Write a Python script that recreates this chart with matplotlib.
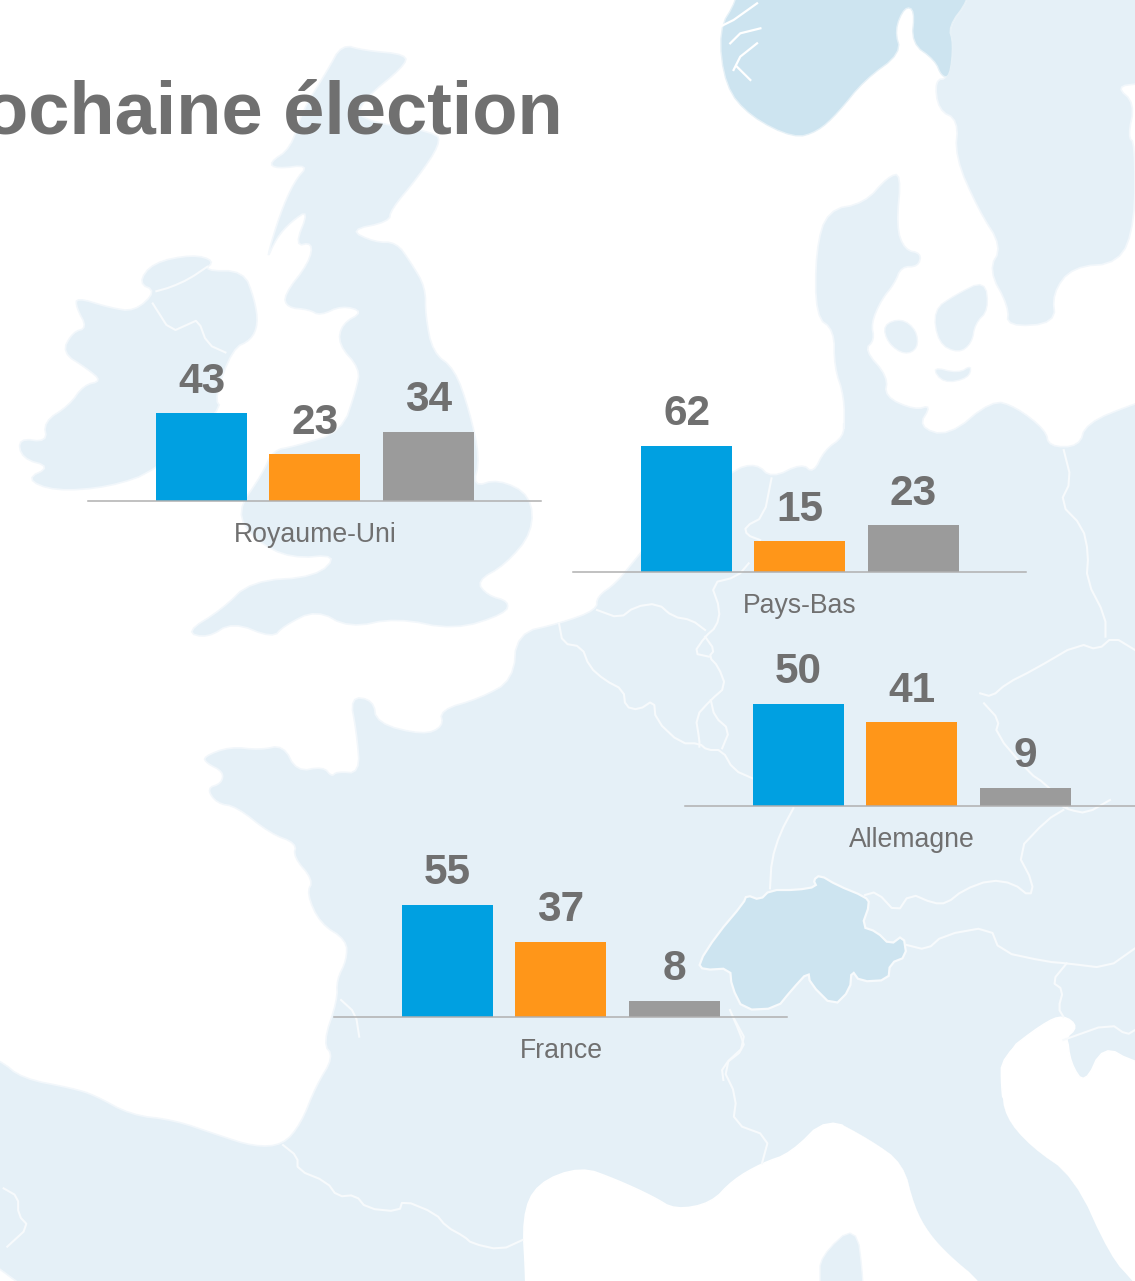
import matplotlib
matplotlib.use('Agg')
import matplotlib.pyplot as plt
from matplotlib.patches import Polygon

plt.rcParams['font.family'] = ['Liberation Sans', 'DejaVu Sans']

W, H = 1135, 1281

# chart data
countries = ['Royaume-Uni', 'Pays-Bas', 'Allemagne', 'France']
blue_values = [43, 62, 50, 55]
orange_values = [23, 15, 41, 37]
grey_values = [34, 23, 9, 8]
bar_colors = ['#00A0E1', '#FF9619', '#9B9B9B']

# where each small chart sits: left end and baseline of its axis, in pixels
axis_left = [88.4, 573.4, 685.4, 334.4]
axis_base = [501, 572, 806, 1017]
axis_width = 453
px_per_unit = 2.04
y_top = 70

LAND = '#E5F0F7'
DARK = '#CDE4F0'
TEXT = '#707070'


def pts(coords, x0, y0, sx=3.0, sy=3.0):
    return [(x0 + a / sx, y0 + b / sy) for a, b in coords]


def soften(line, closed=True, rounds=2):
    # corner cutting so the hand-read coastlines are not so angular
    for _ in range(rounds):
        out = []
        n = len(line)
        stop = n if closed else n - 1
        if not closed:
            out.append(line[0])
        for k in range(stop):
            a, b = line[k], line[(k + 1) % n]
            out.append((0.75 * a[0] + 0.25 * b[0], 0.75 * a[1] + 0.25 * b[1]))
            out.append((0.25 * a[0] + 0.75 * b[0], 0.25 * a[1] + 0.75 * b[1]))
        if not closed:
            out.append(line[-1])
        line = out
    return line


# background map outlines
brittany_channel = pts([(70, 470), (150, 440), (240, 450), (310, 435), (350, 515), (430, 500), (455, 530),
                        (470, 515), (540, 520), (530, 400), (510, 290), (580, 300), (590, 370), (730, 405),
                        (790, 380), (780, 330), (900, 295), (1000, 240), (1010, 100), (1140, 70), (1250, 30)],
                       180, 600)
low_countries = pts([(150, 530), (200, 490), (250, 420), (300, 350), (506, 150), (570, 130), (610, 175), (690, 130),
                     (720, 160), (750, 90), (800, 50), (800, 0)], 540, 420, 2.635)
jutland_baltic = pts([(430, 1300), (430, 1190), (400, 1100), (400, 990), (345, 950), (345, 750), (380, 630),
                      (490, 610), (560, 530), (600, 520), (585, 680), (610, 750), (660, 760), (650, 800), (600, 800),
                      (580, 850), (540, 900), (510, 970), (520, 1020), (490, 1050), (560, 1130), (550, 1190),
                      (640, 1230), (690, 1215), (650, 1280), (740, 1310), (870, 1200), (940, 1220), (1030, 1290),
                      (1040, 1340), (1130, 1340), (1150, 1270), (1296, 1210)], 700, 0, 2.98)
spain_biscay = pts([(-60, 130), (0, 180), (30, 235), (100, 265), (130, 285), (180, 345), (240, 360), (300, 405),
                    (350, 440), (390, 435), (415, 370), (435, 260), (460, 170), (445, 130), (465, 0)],
                   0, 1000, 1.378)
atlantic_france = pts([(470, 1140), (500, 1080), (500, 1020), (420, 970), (380, 880), (400, 840), (340, 770),
                       (350, 730), (270, 700), (170, 620), (110, 610), (80, 565), (125, 550), (130, 515), (80, 490)],
                      180, 600)
mainland = (brittany_channel + low_countries + jutland_baltic
            + [(W + 60, 385), (W + 60, H + 60), (-60, H + 60)] + spain_biscay + atlantic_france)

great_britain = pts([(940, 35), (1000, 50), (1120, 60), (1110, 90), (1000, 170), (980, 220), (1200, 250), (1210, 280),
                     (1150, 360), (1075, 440), (1070, 470), (960, 490), (1030, 520), (1090, 520), (1130, 570),
                     (1170, 630), (1170, 700), (1190, 790), (1250, 830), (1290, 930), (1320, 1050), (1300, 1120),
                     (1370, 1100), (1460, 1140), (1465, 1230), (1390, 1310), (1310, 1350), (1340, 1385), (1400, 1400),
                     (1390, 1430), (1250, 1470), (1090, 1440), (960, 1465), (870, 1420), (780, 1460), (750, 1490),
                     (640, 1450), (570, 1490), (510, 1475), (610, 1420), (690, 1350), (870, 1340), (930, 1285),
                     (800, 1295), (700, 1250), (650, 1180), (720, 1090), (750, 1030), (810, 1020), (940, 985),
                     (980, 880), (990, 830), (930, 770), (940, 720), (1000, 690), (940, 675), (880, 700), (850, 685),
                     (790, 680), (780, 650), (850, 570), (860, 520), (810, 530), (850, 440), (800, 470), (760, 510),
                     (730, 570), (770, 450), (810, 370), (850, 330), (760, 340), (740, 325), (800, 290), (830, 200),
                     (900, 100)], 0, 30, 2.75, 2.45)
ireland = pts([(210, 655), (300, 680), (370, 690), (430, 640), (380, 620), (420, 570), (530, 550), (590, 565),
               (560, 590), (670, 590), (700, 660), (710, 720), (690, 760), (640, 780), (590, 900), (610, 930),
               (430, 1080), (300, 1120), (150, 1130), (70, 1100), (140, 1070), (60, 1050), (50, 1000), (130, 1010),
               (120, 960), (190, 920), (230, 870), (280, 860), (240, 830), (170, 790), (200, 740), (240, 730),
               (210, 680)], 0, 30, 2.75, 2.45)
sweden = pts([(800, -60), (800, 0), (740, 80), (755, 140), (740, 235), (700, 240), (710, 330), (770, 360), (760, 470),
              (830, 630), (900, 740), (860, 810), (920, 920), (915, 980), (1060, 970), (1050, 880), (1110, 800),
              (1250, 790), (1296, 670), (1296, 430), (1275, 410), (1296, 310), (1240, 260), (1310, 250), (1400, 250),
              (1400, -60)], 700, 0, 2.98)
norway = pts([(110, -60), (110, 0), (55, 90), (75, 260), (150, 350), (280, 415), (350, 395), (410, 340), (490, 240),
              (600, 160), (580, 90), (610, 20), (640, 30), (630, 130), (700, 180), (720, 230), (745, 230), (755, 130),
              (740, 80), (800, 0), (800, -60)], 700, 0, 2.98)
fjords = [pts([(170, 10), (100, 60), (60, 80)], 700, 0, 2.98),
          pts([(180, 85), (120, 100), (90, 130)], 700, 0, 2.98),
          pts([(170, 130), (120, 170), (100, 210)], 700, 0, 2.98),
          pts([(110, 200), (150, 240)], 700, 0, 2.98)]
funen = pts([(545, 975), (600, 955), (645, 990), (650, 1045), (610, 1065), (560, 1030)], 700, 0, 2.98)
zealand = pts([(695, 930), (760, 885), (850, 840), (860, 930), (820, 970), (810, 1030), (770, 1060), (710, 1030)],
              700, 0, 2.98)
lolland = pts([(690, 1100), (770, 1120), (810, 1095), (800, 1135), (725, 1150)], 700, 0, 2.98)
switzerland = pts([(270, 270), (350, 270), (410, 260), (400, 240), (420, 225), (470, 255), (555, 290), (570, 310),
                   (545, 380), (590, 395), (630, 435), (670, 405), (680, 470), (630, 490), (625, 540), (540, 545),
                   (515, 510), (510, 570), (460, 620), (390, 550), (385, 515), (335, 570), (290, 625), (190, 630),
                   (155, 560), (150, 505), (70, 510), (55, 490), (110, 405), (190, 310), (200, 285), (240, 300)],
                  680, 800)

mediterranean = pts([(725, 1000), (725, 840), (720, 650), (740, 550), (800, 500), (850, 540), (900, 590), (930, 630),
                     (980, 610), (1010, 540), (1050, 490), (1090, 460), (1140, 350), (1200, 420), (1245, 490),
                     (1260, 620), (1280, 700), (1310, 770), (1350, 842), (1400, 1000)], 0, 1000, 1.378)
corsica = pts([(1130, 1000), (1130, 842), (1130, 770), (1180, 670), (1190, 842), (1190, 1000)], 0, 1000, 1.378)
adriatic = pts([(1380, 170), (1445, 60), (1470, 100), (1475, 190), (1495, 255), (1520, 135), (1564, 190), (1700, 260),
                (1700, 1000), (1564, 850), (1530, 770), (1480, 530), (1420, 440), (1385, 350), (1380, 260)],
               0, 1000, 1.378)
venice = pts([(960, 770), (1090, 670), (1150, 645), (1195, 680), (1150, 720), (1170, 840), (1060, 880)], 680, 800)
# Italy goes on top of both seas so the peninsula stays whole down to the page edge
italy = pts([(1140, 350), (1200, 420), (1245, 490), (1260, 620), (1280, 700), (1310, 770), (1350, 842), (1400, 1000),
             (1620, 1000), (1564, 850), (1530, 770), (1480, 530), (1420, 440), (1385, 350), (1380, 260), (1200, 250)],
            0, 1000, 1.378)

borders = [
    pts([(50, 610), (60, 670), (110, 680), (130, 740), (170, 780), (220, 810), (225, 860), (260, 870), (300, 840),
         (305, 900), (370, 970), (420, 970), (440, 990), (480, 990), (510, 1050), (560, 1075)], 540, 420, 2.635),
    pts([(150, 570), (210, 595), (250, 560), (310, 550), (350, 590), (400, 600), (435, 630)], 540, 420, 2.635),
    pts([(610, 175), (590, 290), (540, 320), (545, 345), (580, 360)], 540, 420, 2.635),
    pts([(550, 430), (520, 470), (450, 490), (475, 570), (465, 620), (435, 650), (405, 700), (445, 710)],
        540, 420, 2.635),
    pts([(435, 650), (460, 690), (445, 710), (470, 740), (490, 800), (450, 840), (410, 890), (420, 960), (420, 980)],
        540, 420, 2.635),
    pts([(450, 840), (460, 890), (500, 930), (480, 985)], 540, 420, 2.635),
    pts([(1380, 90), (1400, 180), (1370, 250), (1430, 320), (1445, 400), (1440, 480), (1490, 590), (1490, 650)],
        540, 420, 2.635),
    pts([(1160, 820), (1190, 830), (1230, 790), (1300, 750), (1420, 670), (1470, 690), (1510, 650), (1568, 690)],
        540, 420, 2.635),
    pts([(1170, 850), (1210, 900), (1200, 940), (1290, 1060), (1330, 1090), (1390, 1160)], 540, 420, 2.635),
    pts([(340, 25), (300, 100), (275, 180), (270, 265)], 680, 800),
    pts([(555, 285), (590, 275), (650, 340), (690, 280), (760, 310), (800, 310), (850, 270), (930, 240), (1000, 250),
         (1050, 290), (1060, 250), (1010, 155), (1100, 60), (1150, 30)], 680, 800),
    pts([(1150, 20), (1170, 30), (1220, 40), (1290, 0)], 680, 800),
    pts([(680, 435), (740, 450), (790, 405), (930, 380), (960, 455), (1100, 485), (1160, 490), (1280, 505), (1365, 445)],
        680, 800),
    pts([(1160, 490), (1115, 545), (1150, 570), (1135, 625), (1150, 650)], 680, 800),
    pts([(1150, 720), (1290, 670), (1340, 705), (1365, 690)], 680, 800),
    pts([(150, 630), (180, 700), (195, 745), (125, 800), (130, 840)], 680, 800),
    pts([(1010, 50), (1030, 130), (995, 200), (1015, 290), (1010, 370), (1060, 410), (1050, 490)], 0, 1000, 1.378),
    pts([(390, 435), (410, 470), (410, 510), (450, 545), (465, 590), (490, 585), (505, 625), (550, 635), (555, 600),
         (600, 640), (615, 680), (640, 710), (650, 730), (690, 750), (720, 720)], 0, 1000, 1.378),
    pts([(5, 565), (25, 590), (25, 645), (40, 680), (10, 740)], 0, 1000, 1.378),
    pts([(470, 0), (490, 40), (495, 110)], 0, 1000, 1.378),
    pts([(430, 640), (470, 630), (520, 610), (570, 580)], 0, 30, 2.75, 2.45),
    pts([(420, 670), (470, 740), (520, 720), (545, 710), (570, 770), (620, 790)], 0, 30, 2.75, 2.45),
]

fig = plt.figure(figsize=(W / 100, H / 100), dpi=100, facecolor='white')

# map layer in page pixels
bg = fig.add_axes([0, 0, 1, 1], zorder=0)
bg.set_xlim(0, W)
bg.set_ylim(H, 0)
bg.axis('off')

for shape in [mainland, great_britain, ireland, sweden]:
    bg.add_patch(Polygon(soften(shape), closed=True, fc=LAND, ec='#F2F7FB', lw=1.2))
bg.add_patch(Polygon(soften(norway), closed=True, fc=DARK, ec='#E6F1F7', lw=1))
for line in fjords:
    bg.plot([p[0] for p in line], [p[1] for p in line], color='white', lw=1.6)
for shape in [mediterranean, adriatic, venice]:
    bg.add_patch(Polygon(soften(shape), closed=True, fc='white', ec='white', lw=1.2))
bg.add_patch(Polygon(soften(italy), closed=True, fc=LAND, ec='none'))
for shape in [corsica, funen, zealand, lolland]:
    bg.add_patch(Polygon(soften(shape), closed=True, fc=LAND, ec='#F2F7FB', lw=1))
bg.add_patch(Polygon(soften(switzerland, rounds=1), closed=True, fc=DARK, ec='#F7FAFC', lw=1.6))
for line in borders:
    line = soften(line, closed=False, rounds=1)
    bg.plot([p[0] for p in line], [p[1] for p in line], color='#F7FAFC', lw=1.5, solid_joinstyle='round')

bg.text(563, 134, 'prochaine élection', ha='right', va='baseline', fontsize=53.4, fontweight='bold', color=TEXT)

# one small bar chart per country
for i, name in enumerate(countries):
    vals = [blue_values[i], orange_values[i], grey_values[i]]
    ax_h = y_top * px_per_unit
    ax = fig.add_axes([axis_left[i] / W, (H - axis_base[i]) / H, axis_width / W, ax_h / H], zorder=2)
    ax.patch.set_alpha(0)
    ax.set_xlim(-1, 3)
    ax.set_ylim(0, y_top)
    ax.bar(range(3), vals, width=0.805, color=bar_colors)
    for spine in ['top', 'left', 'right']:
        ax.spines[spine].set_visible(False)
    ax.spines['bottom'].set_color('#B0B0B0')
    ax.spines['bottom'].set_linewidth(1.1)
    ax.set_yticks([])
    ax.set_xticks([])
    for x, v in enumerate(vals):
        ax.annotate(str(v), (x, v), xytext=(0, 14.8), textcoords='offset points', ha='center', va='baseline',
                    fontsize=30.5, fontweight='bold', color=TEXT)
    ax.annotate(name, (1, 0), xytext=(0, -29.5), textcoords='offset points', ha='center', va='baseline',
                fontsize=19.2, color=TEXT, annotation_clip=False)

fig.savefig('out.png', dpi=100)
